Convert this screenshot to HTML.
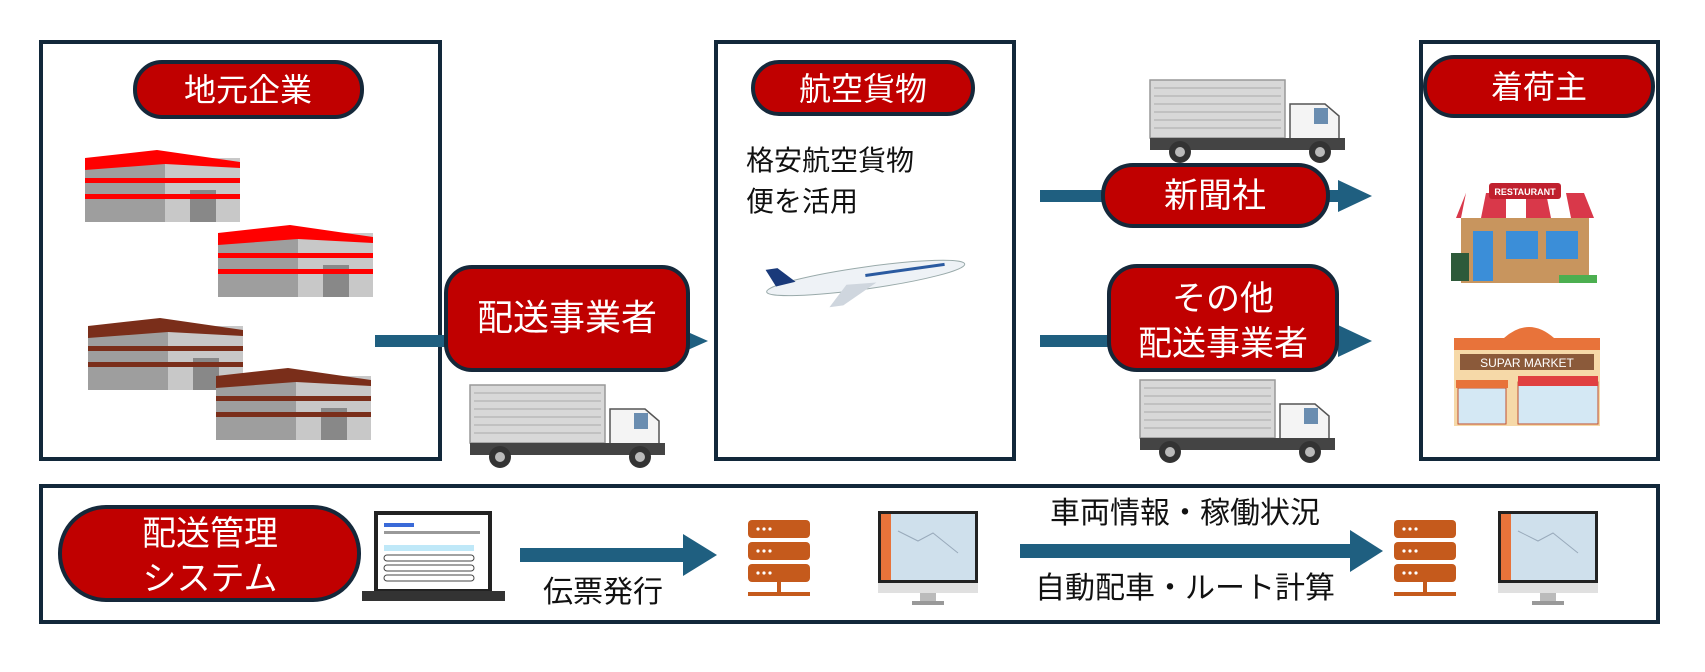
<!DOCTYPE html>
<html><head><meta charset="utf-8"><style>
html,body{margin:0;padding:0;background:#fff;}
svg{display:block;}
text{font-family:"Liberation Sans","Noto Sans CJK JP",sans-serif;}
</style></head><body>
<svg width="1705" height="672" viewBox="0 0 1705 672" xmlns="http://www.w3.org/2000/svg">
<defs>
<g id="truck">
 <rect x="0" y="0" width="135" height="58" fill="#d8d8d8" stroke="#999" stroke-width="1.5"/>
 <g stroke="#aaa" stroke-width="1">
  <line x1="4" y1="8" x2="131" y2="8"/><line x1="4" y1="16" x2="131" y2="16"/><line x1="4" y1="24" x2="131" y2="24"/><line x1="4" y1="32" x2="131" y2="32"/><line x1="4" y1="40" x2="131" y2="40"/><line x1="4" y1="48" x2="131" y2="48"/>
 </g>
 <path d="M140 24 h35 l14 12 v32 h-49 z" fill="#f4f4f4" stroke="#555" stroke-width="1.5"/>
 <rect x="164" y="28" width="14" height="16" fill="#6a8db0"/>
 <rect x="0" y="58" width="195" height="12" fill="#444"/>
 <circle cx="30" cy="72" r="11" fill="#333"/><circle cx="30" cy="72" r="5" fill="#bbb"/>
 <circle cx="170" cy="72" r="11" fill="#333"/><circle cx="170" cy="72" r="5" fill="#bbb"/>
</g>
<g id="bldg">
 <rect x="0" y="8" width="80" height="64" fill="#9e9e9e"/>
 <rect x="80" y="8" width="75" height="64" fill="#c8c8c8"/>
 <rect x="105" y="40" width="26" height="32" fill="#888"/>
 <path d="M0 8 L72 0 L155 12 L155 18 L80 14 L0 20 Z" class="c"/>
 <rect x="0" y="28" width="155" height="5" class="c"/>
 <rect x="0" y="44" width="155" height="5" class="c"/>
</g>
<g id="server">
 <rect x="0" y="0" width="62" height="18" rx="4" fill="#c55a1c"/>
 <rect x="0" y="22" width="62" height="18" rx="4" fill="#c55a1c"/>
 <rect x="0" y="44" width="62" height="18" rx="4" fill="#c55a1c"/>
 <g fill="#fff"><circle cx="10" cy="9" r="1.6"/><circle cx="16" cy="9" r="1.6"/><circle cx="22" cy="9" r="1.6"/><circle cx="10" cy="31" r="1.6"/><circle cx="16" cy="31" r="1.6"/><circle cx="22" cy="31" r="1.6"/><circle cx="10" cy="53" r="1.6"/><circle cx="16" cy="53" r="1.6"/><circle cx="22" cy="53" r="1.6"/></g>
 <rect x="29" y="62" width="4" height="10" fill="#c55a1c"/>
 <rect x="0" y="72" width="62" height="4" fill="#c55a1c"/>
</g>
<g id="monitor">
 <rect x="0" y="0" width="100" height="72" fill="#222"/>
 <rect x="3" y="3" width="94" height="66" fill="#cfe0ec"/>
 <rect x="3" y="3" width="10" height="66" fill="#e8733a"/>
 <path d="M20 20 l20 10 l15 -8 l25 20" stroke="#9ab" fill="none"/>
 <rect x="0" y="72" width="100" height="10" fill="#e0e0e0"/>
 <rect x="42" y="82" width="16" height="8" fill="#bbb"/>
 <rect x="34" y="90" width="32" height="4" fill="#999"/>
</g>
</defs>

<!-- boxes -->
<g fill="none" stroke="#12283a" stroke-width="4">
<rect x="41" y="42" width="399" height="417"/>
<rect x="716" y="42" width="298" height="417"/>
<rect x="1421" y="42" width="237" height="417"/>
<rect x="41" y="486" width="1617" height="136"/>
</g>

<!-- arrows -->
<g fill="#1f5f80">
<rect x="375" y="335" width="300" height="12"/><polygon points="672,325 708,341 672,357"/>
<rect x="1040" y="190" width="300" height="12"/><polygon points="1338,180 1372,196 1338,212"/>
<rect x="1040" y="335" width="300" height="12"/><polygon points="1338,325 1372,341 1338,357"/>
<rect x="520" y="548" width="165" height="14"/><polygon points="683,534 717,555 683,576"/>
<rect x="1020" y="544" width="332" height="14"/><polygon points="1350,530 1383,551 1350,572"/>
</g>

<!-- pills -->
<g fill="#c00000" stroke="#15283a" stroke-width="4">
<rect x="135" y="62" width="227" height="55" rx="27"/>
<rect x="753" y="62" width="220" height="52" rx="26"/>
<rect x="1425" y="57" width="228" height="59" rx="29"/>
<rect x="446" y="267" width="242" height="103" rx="26"/>
<rect x="1103" y="165" width="225" height="61" rx="30"/>
<rect x="1109" y="266" width="228" height="104" rx="28"/>
<rect x="60" y="507" width="299" height="93" rx="46"/>
</g>
<g fill="#fff" font-size="32" text-anchor="middle">
<text x="248" y="101">地元企業</text>
<text x="863" y="100">航空貨物</text>
<text x="1539" y="98">着荷主</text>
<text x="567" y="330" font-size="36">配送事業者</text>
<text x="1215" y="207" font-size="34">新聞社</text>
<text x="1223" y="310" font-size="34">その他</text>
<text x="1223" y="355" font-size="34">配送事業者</text>
<text x="210" y="545" font-size="34">配送管理</text>
<text x="210" y="590" font-size="34">システム</text>
</g>

<!-- texts -->
<g fill="#111" font-size="28">
<text x="746" y="170">格安航空貨物</text>
<text x="746" y="211">便を活用</text>
<text x="603" y="602" text-anchor="middle" font-size="30">伝票発行</text>
<text x="1185" y="523" text-anchor="middle" font-size="30">車両情報・稼働状況</text>
<text x="1185" y="598" text-anchor="middle" font-size="30">自動配車・ルート計算</text>
</g>

<!-- buildings -->
<g style="--c:red"><g fill="#ff0000"><use href="#bldg" x="85" y="150"/><use href="#bldg" x="218" y="225"/></g></g>
<style>.c{fill:inherit}</style>
<g fill="#7a2e1a"><use href="#bldg" x="88" y="318"/><use href="#bldg" x="216" y="368"/></g>

<!-- trucks -->
<use href="#truck" x="470" y="385"/>
<use href="#truck" x="1150" y="80"/>
<use href="#truck" x="1140" y="380"/>

<!-- plane -->
<g transform="translate(765,280) rotate(-8)">
<ellipse cx="100" cy="12" rx="100" ry="11" fill="#eef2f6" stroke="#9aa" stroke-width="1"/>
<path d="M10 8 l-8 -18 h12 l16 16 z" fill="#1a3a7a"/>
<path d="M80 16 l-20 20 h14 l36 -18 z" fill="#cfd6de"/>
<rect x="100" y="8" width="80" height="3" fill="#2a5aa0"/>
</g>

<!-- restaurant -->
<g transform="translate(1451,183)">
<rect x="10" y="35" width="128" height="65" fill="#c8955e"/>
<path d="M5 35 L15 10 H133 L143 35 Z" fill="#d9384a"/>
<path d="M15 10 h20 l-5 25 h-20z M55 10 h20 v25 h-20z M95 10 h20 l5 25 h-20z" fill="#fff"/>
<rect x="38" y="0" width="72" height="16" rx="3" fill="#c0202e"/>
<text x="74" y="12" font-size="9" fill="#fff" text-anchor="middle" font-weight="bold">RESTAURANT</text>
<rect x="22" y="48" width="20" height="50" fill="#3b8ed8"/>
<rect x="55" y="48" width="32" height="28" fill="#3b8ed8"/>
<rect x="95" y="48" width="32" height="28" fill="#3b8ed8"/>
<rect x="0" y="70" width="18" height="28" fill="#2e5a3a"/>
<rect x="108" y="92" width="38" height="8" fill="#4caf50"/>
</g>

<!-- supermarket -->
<g transform="translate(1454,326)">
<path d="M50 12 q25 -22 50 0z" fill="#e8733a"/>
<rect x="0" y="12" width="146" height="88" fill="#f6d9a8"/>
<rect x="0" y="12" width="146" height="12" fill="#e8733a"/>
<rect x="6" y="28" width="134" height="16" fill="#8b5a3a"/>
<text x="73" y="41" font-size="12" fill="#fff" text-anchor="middle">SUPAR MARKET</text>
<rect x="4" y="62" width="48" height="36" fill="#d4e8f4" stroke="#c05030"/>
<rect x="64" y="56" width="80" height="42" fill="#d4e8f4" stroke="#c05030"/>
<rect x="64" y="50" width="80" height="10" fill="#e04040"/>
<rect x="2" y="54" width="52" height="8" fill="#e8733a"/>
</g>

<!-- laptop -->
<g transform="translate(362,511)">
<rect x="12" y="0" width="118" height="80" fill="#222"/>
<rect x="16" y="4" width="110" height="74" fill="#fff"/>
<rect x="22" y="12" width="30" height="4" fill="#3a6ad8"/>
<rect x="22" y="20" width="96" height="3" fill="#999"/>
<g fill="none" stroke="#444"><rect x="22" y="44" width="90" height="6" rx="3"/><rect x="22" y="54" width="90" height="6" rx="3"/><rect x="22" y="64" width="90" height="6" rx="3"/></g>
<rect x="22" y="34" width="90" height="6" fill="#bfe8f8"/>
<rect x="0" y="80" width="143" height="10" fill="#333"/>
</g>

<use href="#server" x="748" y="520"/>
<use href="#monitor" x="878" y="511"/>
<use href="#server" x="1394" y="520"/>
<use href="#monitor" x="1498" y="511"/>
</svg>
</body></html>
